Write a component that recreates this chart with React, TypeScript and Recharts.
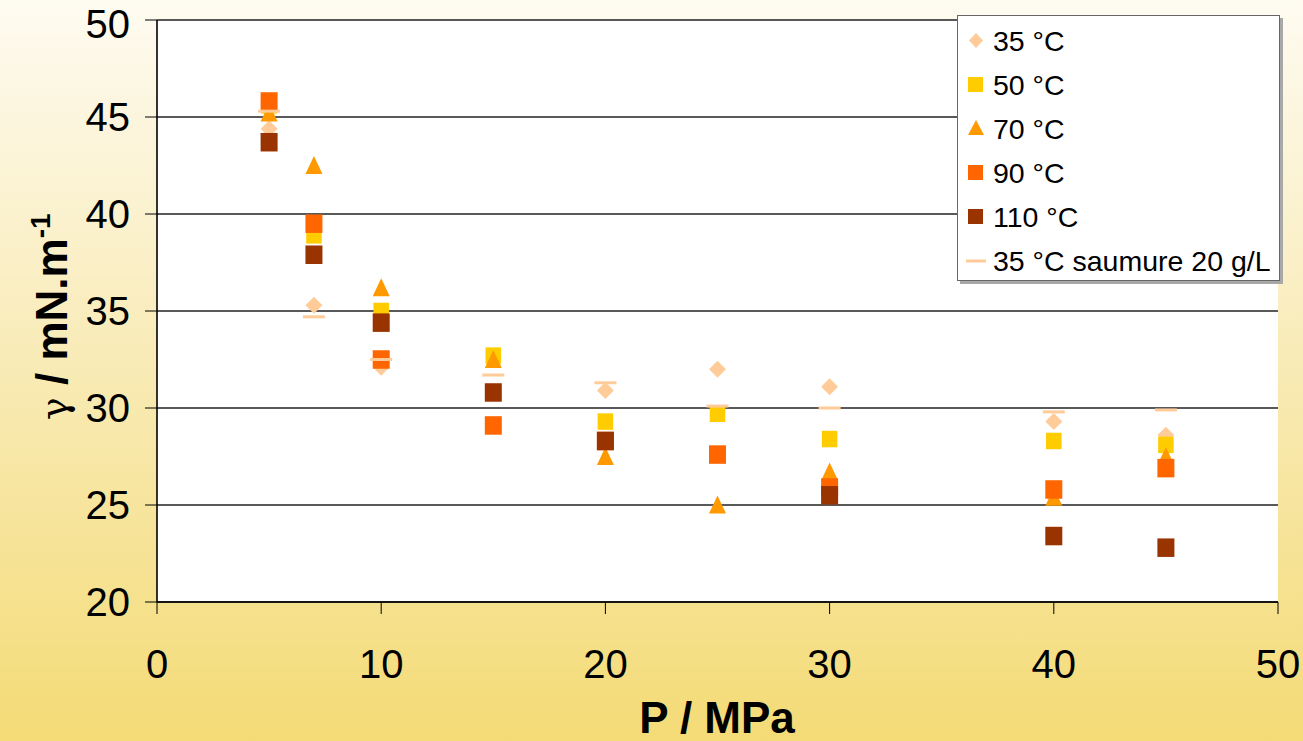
import { ScatterChart, Scatter, XAxis, YAxis, CartesianGrid, Legend } from "recharts"

// pression (MPa) and tension interfaciale (mN/m)
const pressure = [5, 7, 10, 15, 20, 25, 30, 40, 45]
const gamma35 = [44.4, 35.3, 32.1, 30.8, 30.9, 32.0, 31.1, 29.3, 28.6]
const gamma50 = [45.6, 38.9, 35.0, 32.7, 29.3, 29.7, 28.4, 28.3, 28.1]
const gamma70 = [45.2, 42.5, 36.2, 32.5, 27.5, 25.0, 26.7, 25.4, 27.5]
const gamma90 = [45.8, 39.5, 32.5, 29.1, 28.3, 27.6, 25.9, 25.8, 26.9]
const gamma110 = [43.7, 37.9, 34.4, 30.8, 28.3, null, 25.5, 23.4, 22.8]
const gammaSaumure = [45.3, 34.7, 32.5, 31.7, 31.3, 30.1, 30.0, 29.8, 29.9]

const seriesNames = ["35 °C", "50 °C", "70 °C", "90 °C", "110 °C", "35 °C saumure 20 g/L"]
const xTicks = [0, 10, 20, 30, 40, 50]
const yTicks = [20, 25, 30, 35, 40, 45, 50]

const FONT = "'Liberation Sans', Arial, sans-serif"

const toPoints = (vals: (number | null)[]) =>
  pressure.map((p, i) => ({ x: p, y: vals[i] })).filter((d) => d.y != null)

const Diamond = ({ cx, cy, fill }: any) => (
  <polygon points={`${cx},${cy - 8.5} ${cx + 8.5},${cy} ${cx},${cy + 8.5} ${cx - 8.5},${cy}`} fill={fill} />
)

const makeSquare = (w: number, h: number) => ({ cx, cy, fill }: any) => (
  <rect x={cx - w / 2} y={cy - h / 2} width={w} height={h} fill={fill} />
)

const Triangle = ({ cx, cy, fill }: any) => (
  <polygon points={`${cx},${cy - 9.5} ${cx + 8.5},${cy + 8.5} ${cx - 8.5},${cy + 8.5}`} fill={fill} />
)

const Dash = ({ cx, cy, fill }: any) => <rect x={cx - 11} y={cy - 1.5} width={22} height={3} fill={fill} />

const series = [
  { name: seriesNames[0], data: toPoints(gamma35), color: "#FFCC99", shape: Diamond },
  { name: seriesNames[1], data: toPoints(gamma50), color: "#FFCC00", shape: makeSquare(15.5, 16.5) },
  { name: seriesNames[2], data: toPoints(gamma70), color: "#FF9900", shape: Triangle },
  { name: seriesNames[3], data: toPoints(gamma90), color: "#FF6600", shape: makeSquare(17, 18.5) },
  { name: seriesNames[4], data: toPoints(gamma110), color: "#993300", shape: makeSquare(17, 18.5) },
  { name: seriesNames[5], data: toPoints(gammaSaumure), color: "#FFCC99", shape: Dash },
]

const legendIcon = (name: string, color: string) => {
  const i = seriesNames.indexOf(name)
  if (i === 0) return <polygon points="18,13 25,20.5 18,28 11,20.5" fill={color} />
  if (i === 2) return <polygon points="18,12 26,27 10,27" fill={color} />
  if (i === 5) return <rect x={8} y={19.5} width={20} height={3} fill={color} />
  return <rect x={10} y={13} width={15} height={15} fill={color} />
}

const LegendBox = ({ payload }: any) => {
  const items = [...(payload || [])].sort(
    (a: any, b: any) => seriesNames.indexOf(a.value) - seriesNames.indexOf(b.value)
  )
  return (
    <div
      style={{
        width: 323,
        height: 266,
        boxSizing: "border-box",
        background: "#fff",
        border: "1px solid #666",
        boxShadow: "3px 3px 0 #a8a8a8",
        paddingTop: 3,
        fontFamily: FONT,
        fontSize: 28.5,
        color: "#000",
      }}
    >
      {items.map((p: any) => (
        <div key={p.value} style={{ height: 44, display: "flex", alignItems: "center" }}>
          <svg width={35} height={42} style={{ flex: "none" }}>
            {legendIcon(p.value, p.color)}
          </svg>
          <span style={{ whiteSpace: "nowrap" }}>{p.value}</span>
        </div>
      ))}
    </div>
  )
}

const YLabel = () => (
  <text transform="translate(67,420) rotate(-90)" fontFamily={FONT} fontWeight="bold" fontSize={44} fill="#000">
    <tspan fontFamily="'DejaVu Serif', 'Liberation Serif', serif" fontWeight="normal" fontSize={38}>
      γ
    </tspan>
    <tspan> / mN.m</tspan>
    <tspan fontSize={28} dy={-17}>
      -1
    </tspan>
  </text>
)

const XLabel = () => (
  <text x={717} y={733} textAnchor="middle" fontFamily={FONT} fontWeight="bold" fontSize={44} fill="#000">
    P / MPa
  </text>
)

export default function App() {
  return (
    <div
      style={{
        position: "absolute",
        left: 0,
        top: 0,
        width: 1303,
        height: 741,
        background: "linear-gradient(180deg, #fefbf1 0%, #f9ecbb 45%, #f4db76 100%)",
      }}
    >
      <ScatterChart width={1303} height={741} margin={{ top: 20, right: 25, bottom: 0, left: 0 }}>
        <CartesianGrid horizontal vertical={false} fill="#fff" stroke="#222" strokeWidth={1.6} />
        <XAxis
          type="number"
          dataKey="x"
          domain={[0, 50]}
          ticks={xTicks}
          height={139}
          tickSize={12}
          tickMargin={36}
          axisLine={{ stroke: "#000", strokeWidth: 1.6 }}
          tickLine={{ stroke: "#000" }}
          tick={{ fill: "#000", fontSize: 40, fontFamily: FONT }}
          label={<XLabel />}
        />
        <YAxis
          type="number"
          dataKey="y"
          domain={[20, 50]}
          ticks={yTicks}
          width={157}
          tickSize={12}
          tickMargin={15}
          axisLine={{ stroke: "#000", strokeWidth: 1.6 }}
          tickLine={{ stroke: "#000" }}
          tick={{ fill: "#000", fontSize: 40, fontFamily: FONT }}
          label={<YLabel />}
        />
        {series.map((s) => (
          <Scatter key={s.name} name={s.name} data={s.data} fill={s.color} shape={s.shape} isAnimationActive={false} />
        ))}
        <Legend
          layout="vertical"
          align="center"
          verticalAlign="middle"
          content={<LegendBox />}
          wrapperStyle={{ top: 15, left: 957, width: 323, height: 266 }}
        />
      </ScatterChart>
    </div>
  )
}
